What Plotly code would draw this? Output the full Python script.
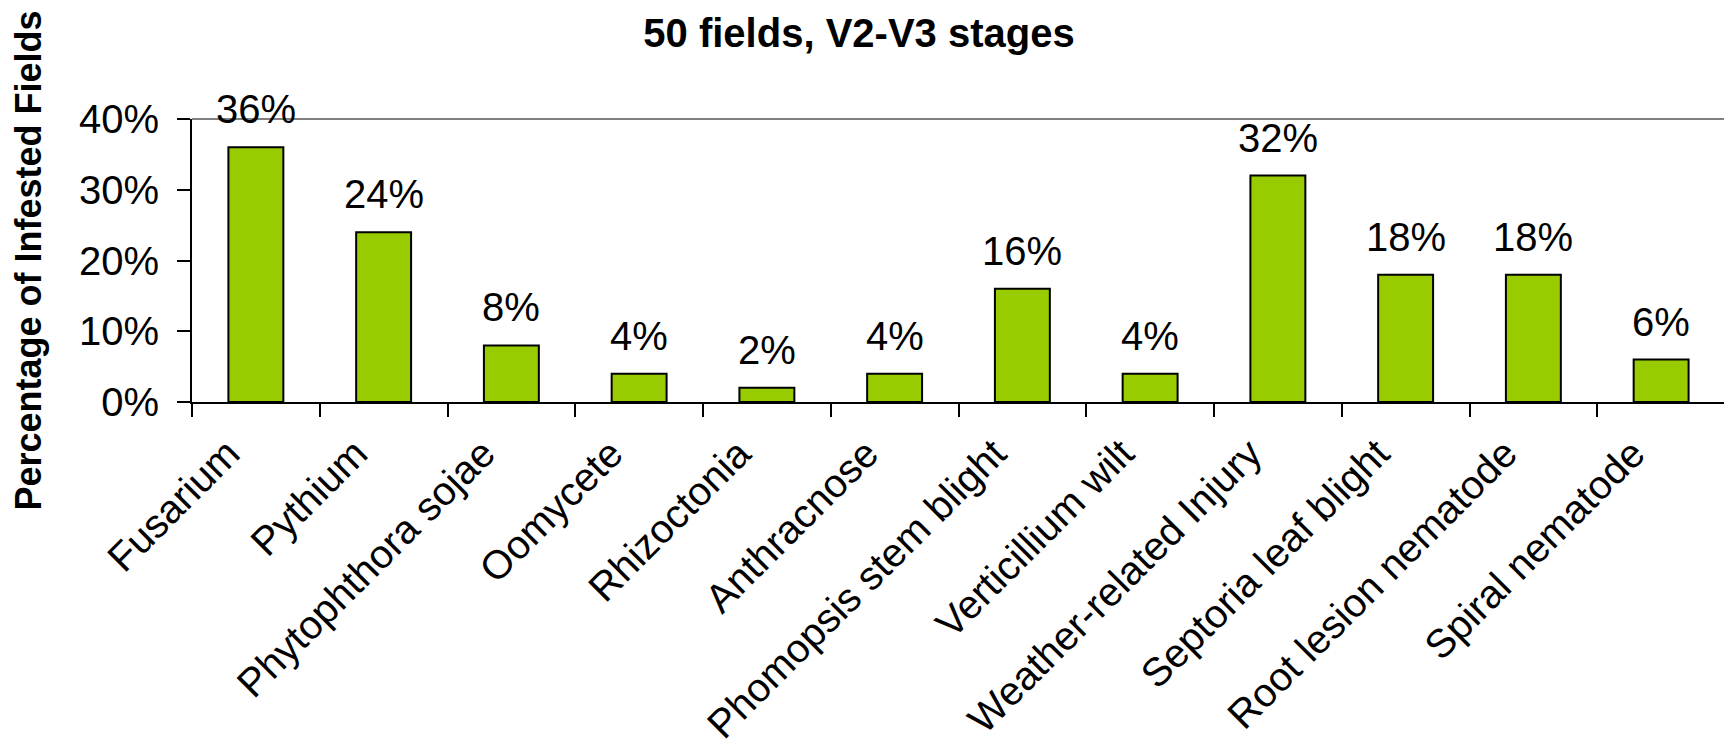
import plotly.graph_objects as go

categories = ["Fusarium", "Pythium", "Phytophthora sojae", "Oomycete", "Rhizoctonia",
              "Anthracnose", "Phomopsis stem blight", "Verticillium wilt",
              "Weather-related Injury", "Septoria leaf blight", "Root lesion nematode",
              "Spiral nematode"]
values = [0.36, 0.24, 0.08, 0.04, 0.02, 0.04, 0.16, 0.04, 0.32, 0.18, 0.18, 0.06]
value_labels = ["36%", "24%", "8%", "4%", "2%", "4%", "16%", "4%", "32%", "18%", "18%", "6%"]
y_ticks = [0, 0.1, 0.2, 0.3, 0.4]
y_tick_labels = ["0%", "10%", "20%", "30%", "40%"]

FONT = "Arial, Liberation Sans, sans-serif"

fig = go.Figure()
fig.add_trace(go.Bar(
    x=categories, y=values,
    marker=dict(color="#99CC00", line=dict(color="#000000", width=2)),
    width=0.43,
    hoverinfo="skip",
))

for c, v, t in zip(categories, values, value_labels):
    fig.add_annotation(x=c, y=v, text=t, showarrow=False, yanchor="bottom",
                       yshift=14, font=dict(family=FONT, size=40, color="#000000"))

# The page body adds an 8px offset, so the figure is 8px smaller in each direction.
fig.update_layout(
    width=1724, height=747,
    margin=dict(l=184, r=7, t=111, b=353, autoexpand=False),
    paper_bgcolor="white", plot_bgcolor="white",
    showlegend=False,
    title=dict(text="<b>50 fields, V2-V3 stages</b>", x=851 / 1724, xref="container",
               xanchor="center", y=1 - 25 / 747, yref="container", yanchor="middle",
               font=dict(family=FONT, size=40, color="#000000")),
    font=dict(family=FONT, color="#000000"),
)

fig.update_xaxes(
    type="category", tickangle=-45, tickson="boundaries", ticks="outside",
    ticklen=13, tickwidth=2, tickcolor="#000000",
    showline=True, linecolor="#000000", linewidth=2, automargin=False,
    ticklabelstandoff=10, ticklabelshift=-28,
    showgrid=False, tickfont=dict(family=FONT, size=40, color="#000000"),
    range=[-0.5, len(categories) - 0.5],
)
fig.update_yaxes(
    range=[0, 0.4], tickvals=y_ticks, ticktext=y_tick_labels,
    ticks="outside", ticklen=13, tickwidth=2, tickcolor="#000000",
    showline=True, linecolor="#000000", linewidth=2, showgrid=False, zeroline=False,
    automargin=False, ticklabelstandoff=10,
    tickfont=dict(family=FONT, size=40, color="#000000"),
    title=dict(text="<b>Percentage of Infested Fields</b>", standoff=36,
               font=dict(family=FONT, size=36, color="#000000")),
)

# gray plot-area border on top and right
fig.add_shape(type="line", xref="paper", yref="paper", x0=0, x1=1, y0=1, y1=1,
              line=dict(color="#808080", width=2))
fig.add_shape(type="line", xref="paper", yref="paper", x0=1, x1=1, y0=0, y1=1,
              line=dict(color="#808080", width=2))

fig.write_html("out.html")
